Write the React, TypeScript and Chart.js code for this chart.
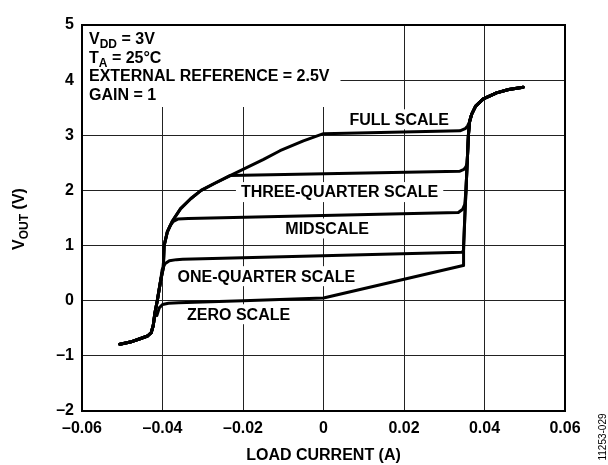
import React, { useEffect, useRef } from 'react';
import { Chart, registerables } from 'chart.js';

Chart.register(...registerables);

type P = [number, number];

const FONT = '"Liberation Sans", Arial, Helvetica, sans-serif';

// Axis ticks
const xTickValues = [-0.06, -0.04, -0.02, 0, 0.02, 0.04, 0.06];
const xTickLabels = ['\u20130.06', '\u20130.04', '\u20130.02', '0', '0.02', '0.04', '0.06'];
const yTickValues = [-2, -1, 0, 1, 2, 3, 4, 5];
const yTickLabels = ['\u20132', '\u20131', '0', '1', '2', '3', '4', '5'];

// Shared parts of the transfer curves (load current A, Vout V)
const leftTail: P[] = [
  [-0.0506, -0.79], [-0.048, -0.75], [-0.0456, -0.69], [-0.0437, -0.64],
  [-0.0428, -0.58], [-0.0423, -0.45], [-0.0419, -0.23],
];
const leftRise: P[] = [
  [-0.0413, 0.0], [-0.0405, 0.35], [-0.0398, 0.6], [-0.0396, 1.0], [-0.0388, 1.25],
  [-0.0375, 1.45], [-0.0355, 1.67], [-0.033, 1.85], [-0.0304, 2.0], [-0.027, 2.13], [-0.0232, 2.27],
];
const rightRise: P[] = [
  [0.0347, 0.64], [0.0348, 1.0], [0.0351, 1.5], [0.0354, 2.0], [0.0357, 2.5], [0.036, 3.0],
  [0.0363, 3.25], [0.0368, 3.38], [0.0378, 3.53], [0.0397, 3.66], [0.043, 3.77], [0.046, 3.83], [0.0496, 3.87],
];

// Individual code branches
const zeroBranch: P[] = [
  [-0.0414, -0.27], [-0.0408, -0.13], [-0.04, -0.07], [-0.0385, -0.045], [-0.036, -0.035], [-0.02, 0.0], [0, 0.05],
];
const oneQuarterBranch: P[] = [
  [-0.0401, 0.56], [-0.0394, 0.67], [-0.0383, 0.725], [-0.0365, 0.745], [-0.035, 0.75], [0.0345, 0.88], [0.0348, 0.92],
];
const midBranch: P[] = [
  [-0.0381, 1.36], [-0.0373, 1.44], [-0.0362, 1.48], [-0.0336, 1.49], [0.0335, 1.6], [0.0346, 1.66], [0.0351, 1.75],
];
const threeQuarterBranch: P[] = [
  [0.0339, 2.35], [0.0349, 2.38], [0.0354, 2.43],
];
const fullBranch: P[] = [
  [-0.02, 2.38], [-0.015, 2.56], [-0.0108, 2.72], [-0.005, 2.9], [0, 3.03], [0.0339, 3.08], [0.0352, 3.12], [0.0358, 3.17],
];

const zeroScale: P[] = [...leftTail, ...zeroBranch, ...rightRise];
const oneQuarterScale: P[] = [...leftTail, ...leftRise.slice(0, 2), ...oneQuarterBranch, ...rightRise.slice(2)];
const midScale: P[] = [...leftTail, ...leftRise.slice(0, 5), ...midBranch, ...rightRise.slice(3)];
const threeQuarterScale: P[] = [...leftTail, ...leftRise, ...threeQuarterBranch, ...rightRise.slice(4)];
const fullScale: P[] = [...leftTail, ...leftRise, ...fullBranch, ...rightRise.slice(6)];

const curves: P[][] = [zeroScale, oneQuarterScale, midScale, threeQuarterScale, fullScale];

// Curve labels (positioned in data units)
const curveLabels = ['ZERO SCALE', 'ONE-QUARTER SCALE', 'MIDSCALE', 'THREE-QUARTER SCALE', 'FULL SCALE'];
const curveLabelX = [-0.0211, -0.0142, 0.0009, 0.004, 0.0188];
const curveLabelY = [-0.245, 0.445, 1.31, 1.97, 3.29];

// Test conditions: [main, subscript, rest]
const conditionLines: [string, string, string][] = [
  ['V', 'DD', ' = 3V'],
  ['T', 'A', ' = 25\u00B0C'],
  ['EXTERNAL REFERENCE = 2.5V', '', ''],
  ['GAIN = 1', '', ''],
];

const xTitle = 'LOAD CURRENT (A)';
const yTitle: [string, string, string] = ['V', 'OUT', ' (V)'];
const figureNumber = '11253-029';

const MAIN = `bold 16px ${FONT}`;
const SUB = `bold 12px ${FONT}`;

function drawSub(ctx: CanvasRenderingContext2D, parts: [string, string, string], x: number, y: number, align: 'left' | 'center') {
  ctx.font = MAIN;
  const w1 = ctx.measureText(parts[0]).width;
  const w3 = ctx.measureText(parts[2]).width;
  ctx.font = SUB;
  const w2 = ctx.measureText(parts[1]).width;
  const total = w1 + w2 + w3;
  const x0 = align === 'center' ? x - total / 2 : x;
  ctx.textAlign = 'left';
  ctx.textBaseline = 'alphabetic';
  ctx.font = MAIN;
  ctx.fillText(parts[0], x0, y);
  ctx.font = SUB;
  ctx.fillText(parts[1], x0 + w1, y + 4);
  ctx.font = MAIN;
  ctx.fillText(parts[2], x0 + w1 + w2, y);
  return total;
}

const textPlugin = {
  id: 'texts',
  beforeDatasetsDraw(chart: any) {
    const { ctx, chartArea: a, scales } = chart;
    const xs = scales.x;
    const ys = scales.y;
    ctx.save();
    let maxW = 0;
    conditionLines.forEach((l) => {
      ctx.font = MAIN;
      const w1 = ctx.measureText(l[0]).width + ctx.measureText(l[2]).width;
      ctx.font = SUB;
      const w = w1 + ctx.measureText(l[1]).width;
      if (w > maxW) maxW = w;
    });
    ctx.fillStyle = '#fff';
    ctx.fillRect(a.left + 1, a.top + 1, maxW + 17, 81);
    ctx.fillStyle = '#000';
    conditionLines.forEach((l, i) => {
      drawSub(ctx, l, a.left + 7, a.top + 19 + i * 18.7, 'left');
    });
    ctx.font = MAIN;
    ctx.textAlign = 'center';
    ctx.textBaseline = 'middle';
    curveLabels.forEach((t, i) => {
      const px = xs.getPixelForValue(curveLabelX[i]);
      const py = ys.getPixelForValue(curveLabelY[i]);
      const w = ctx.measureText(t).width;
      ctx.fillStyle = '#fff';
      ctx.fillRect(px - w / 2 - 5, py - 10, w + 10, 20);
      ctx.fillStyle = '#000';
      ctx.fillText(t, px, py + 1);
    });
    ctx.restore();
  },
  afterDatasetsDraw(chart: any) {
    const { ctx, chartArea: a } = chart;
    ctx.save();
    ctx.strokeStyle = '#000';
    ctx.lineWidth = 2;
    ctx.strokeRect(a.left, a.top, a.right - a.left, a.bottom - a.top);
    ctx.restore();
  },
  afterDraw(chart: any) {
    const { ctx, chartArea: a } = chart;
    ctx.save();
    ctx.fillStyle = '#000';
    ctx.font = MAIN;
    ctx.textAlign = 'center';
    ctx.textBaseline = 'alphabetic';
    ctx.fillText(xTitle, (a.left + a.right) / 2, a.bottom + 49);
    ctx.save();
    ctx.translate(a.left - 58, (a.top + a.bottom) / 2 + 1);
    ctx.rotate(-Math.PI / 2);
    drawSub(ctx, yTitle, 0, 0, 'center');
    ctx.restore();
    ctx.save();
    ctx.translate(606, a.bottom + 26);
    ctx.rotate(-Math.PI / 2);
    ctx.font = `10px ${FONT}`;
    ctx.textAlign = 'center';
    ctx.textBaseline = 'alphabetic';
    ctx.fillText(figureNumber, 0, 0);
    ctx.restore();
    ctx.restore();
  },
};

export default function App() {
  const ref = useRef<HTMLCanvasElement | null>(null);
  useEffect(() => {
    if (!ref.current) return;
    const tickFont = { family: FONT, size: 16, weight: 'bold' as const };
    const chart = new Chart(ref.current, {
      type: 'line',
      data: {
        datasets: curves.map((c, i) => ({
          label: curveLabels[i],
          data: c.map(([x, y]) => ({ x, y })),
          borderColor: '#000',
          borderWidth: 3,
          pointRadius: 0,
          tension: 0,
          fill: false,
          borderJoinStyle: 'round' as const,
          borderCapStyle: 'round' as const,
        })),
      },
      options: {
        responsive: false,
        animation: false,
        devicePixelRatio: 1,
        layout: { padding: { top: 25, right: 43, left: 0, bottom: 0 } },
        plugins: { legend: { display: false }, tooltip: { enabled: false } },
        scales: {
          x: {
            type: 'linear',
            min: -0.06,
            max: 0.06,
            afterBuildTicks: (s: any) => {
              s.ticks = xTickValues.map((v) => ({ value: v }));
            },
            afterFit: (s: any) => {
              s.height = 54;
            },
            ticks: {
              callback: (_v: any, i: number) => xTickLabels[i],
              font: tickFont,
              color: '#000',
              padding: 8,
              maxRotation: 0,
              autoSkip: false,
            },
            grid: { color: '#222', lineWidth: 1, drawTicks: false },
            border: { display: false },
          },
          y: {
            type: 'linear',
            min: -2,
            max: 5,
            afterBuildTicks: (s: any) => {
              s.ticks = yTickValues.map((v) => ({ value: v }));
            },
            afterFit: (s: any) => {
              s.width = 82;
            },
            ticks: {
              callback: (_v: any, i: number) => yTickLabels[i],
              font: tickFont,
              color: '#000',
              padding: 8,
              autoSkip: false,
            },
            grid: { color: '#222', lineWidth: 1, drawTicks: false },
            border: { display: false },
          },
        },
      },
      plugins: [textPlugin],
    });
    return () => chart.destroy();
  }, []);
  return (
    <div style={{ position: 'fixed', left: 0, top: 0, width: 608, height: 465, background: '#fff' }}>
      <canvas ref={ref} width={608} height={465} style={{ display: 'block' }} />
    </div>
  );
}
